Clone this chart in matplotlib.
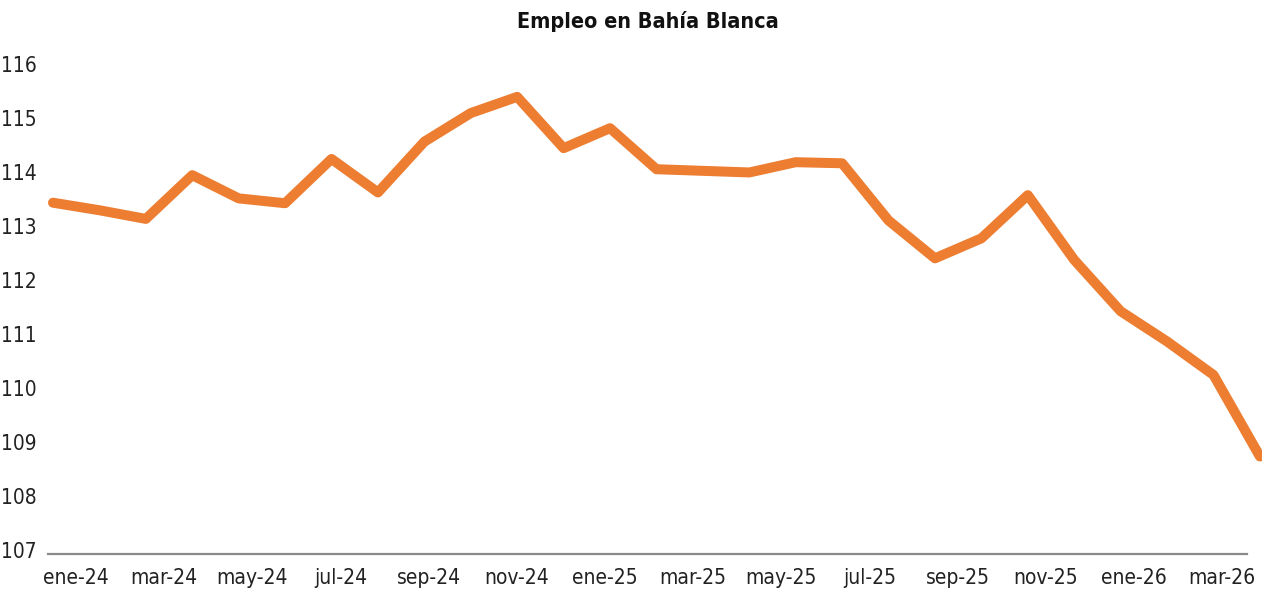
import matplotlib
matplotlib.use("Agg")
import matplotlib.pyplot as plt
from matplotlib import font_manager
from matplotlib.transforms import ScaledTranslation

# Employment index, monthly ene-24 .. mar-26
months = ["ene-24", "feb-24", "mar-24", "abr-24", "may-24", "jun-24", "jul-24", "ago-24", "sep-24",
          "oct-24", "nov-24", "dic-24", "ene-25", "feb-25", "mar-25", "abr-25", "may-25", "jun-25",
          "jul-25", "ago-25", "sep-25", "oct-25", "nov-25", "dic-25", "ene-26", "feb-26", "mar-26"]
empleo = [113.50, 113.36, 113.20, 114.01, 113.58, 113.49, 114.31, 113.69, 114.63,
          115.16, 115.46, 114.51, 114.88, 114.12, 114.09, 114.06, 114.25, 114.23,
          113.17, 112.47, 112.84, 113.64, 112.44, 111.49, 110.93, 110.31, 108.80]
yticks = [107, 108, 109, 110, 111, 112, 113, 114, 115, 116]

# look for a condensed face, the original uses a narrow one
fonts = font_manager.fontManager.ttflist
narrow = [f for f in fonts if ("Narrow" in f.name or "Condensed" in f.name
                                or str(f.stretch) in ("condensed", "semi-condensed", "extra-condensed", "75", "87"))]
fam, stretch, size, tsize = "Roboto", "normal", 13.5, 14.5
for f in narrow:
    fam, stretch, size, tsize = f.name, f.stretch, 15, 15.5
    break
plt.rcParams["font.family"] = [fam, "DejaVu Sans"]
plt.rcParams["font.stretch"] = stretch

W, H = 1262, 593
fig = plt.figure(figsize=(W / 100, H / 100), dpi=100)
left, right = 48 / W, 1247 / W
bottom = (H - 553.7) / H
top = (H - 67.7) / H
ax = fig.add_axes([left, bottom, right - left, top - bottom])

x = list(range(len(months)))
ax.plot(x, empleo, color="#ED7D31", lw=7.2, solid_capstyle="round",
        solid_joinstyle="round", clip_on=False, zorder=3)

# line frame
px_per = 46.42
xmin = -5 / px_per
ax.set_xlim(xmin, xmin + 1199 / px_per)
ax.set_ylim(107, 116)
ax.set_yticks(yticks)
ax.set_yticklabels([str(v) for v in yticks], fontsize=size, color="#222222")
ax.tick_params(axis="y", length=0, pad=8)
ax.set_xticks([])
up = ScaledTranslation(0, 4 / 100, fig.dpi_scale_trans)
for lab in ax.get_yticklabels():
    lab.set_transform(lab.get_transform() + up)

for s in ["top", "right", "left"]:
    ax.spines[s].set_visible(False)
ax.spines["bottom"].set_color("#8a8a8a")
ax.spines["bottom"].set_linewidth(1.6)

# category labels frame
ax2 = ax.twiny()
cat_w = 44.08
xmin2 = -(76 - 48) / cat_w
ax2.set_xlim(xmin2, xmin2 + 1199 / cat_w)
ax2.xaxis.set_ticks_position("bottom")
ax2.xaxis.set_label_position("bottom")
ax2.set_xticks(x[::2])
ax2.set_xticklabels(months[::2], fontsize=size, color="#222222")
ax2.tick_params(axis="x", length=0, pad=10.5)
for s in ax2.spines.values():
    s.set_visible(False)

fig.text(648 / W, 1 - 22 / H, "Empleo en Bahía Blanca", ha="center", va="center",
         fontsize=tsize, fontweight="bold", color="#111111")

fig.savefig("out.png", dpi=100, facecolor="white")
